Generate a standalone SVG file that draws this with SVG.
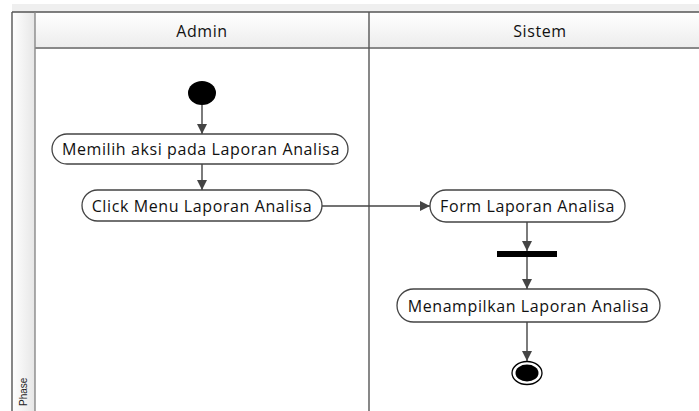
<svg xmlns="http://www.w3.org/2000/svg" width="699" height="411" viewBox="0 0 699 411">
  <style>
    .lbl { font-family: "Open Sans", "Noto Sans", "Liberation Sans", sans-serif; font-size: 16px; letter-spacing: 0.6px; fill: #111; text-anchor: middle; dominant-baseline: central; }
    .act { fill: #fff; stroke: #444; stroke-width: 1.3; }
    .edge { fill: none; stroke: #444; stroke-width: 1.4; }
    .frame { stroke: #555; stroke-width: 1.4; fill: none; }
  </style>
  <defs>
    <linearGradient id="hdr" x1="0" y1="0" x2="0" y2="1">
      <stop offset="0" stop-color="#ffffff"/>
      <stop offset="1" stop-color="#ececec"/>
    </linearGradient>
    <linearGradient id="phs" x1="0" y1="0" x2="1" y2="0">
      <stop offset="0" stop-color="#ffffff"/>
      <stop offset="1" stop-color="#e6e6e6"/>
    </linearGradient>
    <marker id="arr" viewBox="0 0 10 10" refX="10" refY="5" markerWidth="10" markerHeight="10" markerUnits="userSpaceOnUse" orient="auto">
      <path d="M0,0 L10,5 L0,10 z" fill="#444"/>
    </marker>
  </defs>

  <!-- swimlane frame -->
  <g id="lanes">
    <rect x="0" y="0" width="699" height="411" fill="#fff"/>
    <rect x="12" y="4" width="687" height="8" fill="#efefef"/>
    <rect x="12" y="12" width="23" height="399" fill="url(#phs)"/>
    <rect x="35" y="12" width="664" height="36" fill="url(#hdr)"/>
    <line class="frame" x1="12" y1="12" x2="699" y2="12"/>
    <line class="frame" x1="12" y1="12" x2="12" y2="411"/>
    <line x1="35" y1="12" x2="35" y2="411" stroke="#888" stroke-width="1.4"/>
    <line x1="35" y1="48" x2="699" y2="48" stroke="#888" stroke-width="2"/>
    <line class="frame" x1="369" y1="12" x2="369" y2="411"/>
    <text class="lbl" x="202" y="31">Admin</text>
    <text class="lbl" x="540" y="31">Sistem</text>
    <text x="0" y="0" transform="translate(27,406) rotate(-90)" font-family="Liberation Sans, sans-serif" font-size="10" fill="#222">Phase</text>
  </g>

  <!-- connectors -->
  <g id="connectors">
    <line class="edge" x1="202" y1="105" x2="202" y2="134" marker-end="url(#arr)"/>
    <line class="edge" x1="202" y1="164" x2="202" y2="190" marker-end="url(#arr)"/>
    <line class="edge" x1="322" y1="206" x2="430" y2="206" marker-end="url(#arr)"/>
    <line class="edge" x1="527" y1="222" x2="527" y2="251" marker-end="url(#arr)"/>
    <line class="edge" x1="527" y1="257" x2="527" y2="289" marker-end="url(#arr)"/>
    <line class="edge" x1="527" y1="322" x2="527" y2="361" marker-end="url(#arr)"/>
  </g>

  <g id="start">
    <ellipse cx="202" cy="93" rx="14" ry="12" fill="#000"/>
  </g>

  <g id="memilih">
    <rect class="act" x="52" y="134" width="296" height="30" rx="15"/>
    <text class="lbl" x="201" y="149">Memilih aksi pada Laporan Analisa</text>
  </g>

  <g id="click-menu">
    <rect class="act" x="82" y="190" width="240" height="31" rx="15.5"/>
    <text class="lbl" x="202" y="205.5">Click Menu Laporan Analisa</text>
  </g>

  <g id="form">
    <rect class="act" x="430" y="190" width="195" height="32" rx="16"/>
    <text class="lbl" x="527.5" y="206">Form Laporan Analisa</text>
  </g>

  <g id="fork">
    <rect x="497" y="251" width="60" height="6" fill="#000"/>
  </g>

  <g id="menampilkan">
    <rect class="act" x="397" y="289" width="263" height="33" rx="16.5"/>
    <text class="lbl" x="528.5" y="305.5">Menampilkan Laporan Analisa</text>
  </g>

  <g id="end">
    <ellipse cx="527" cy="373" rx="15" ry="11.5" fill="#fff" stroke="#000" stroke-width="1.3"/>
    <ellipse cx="527" cy="373" rx="11.5" ry="8.5" fill="#000"/>
  </g>
</svg>
